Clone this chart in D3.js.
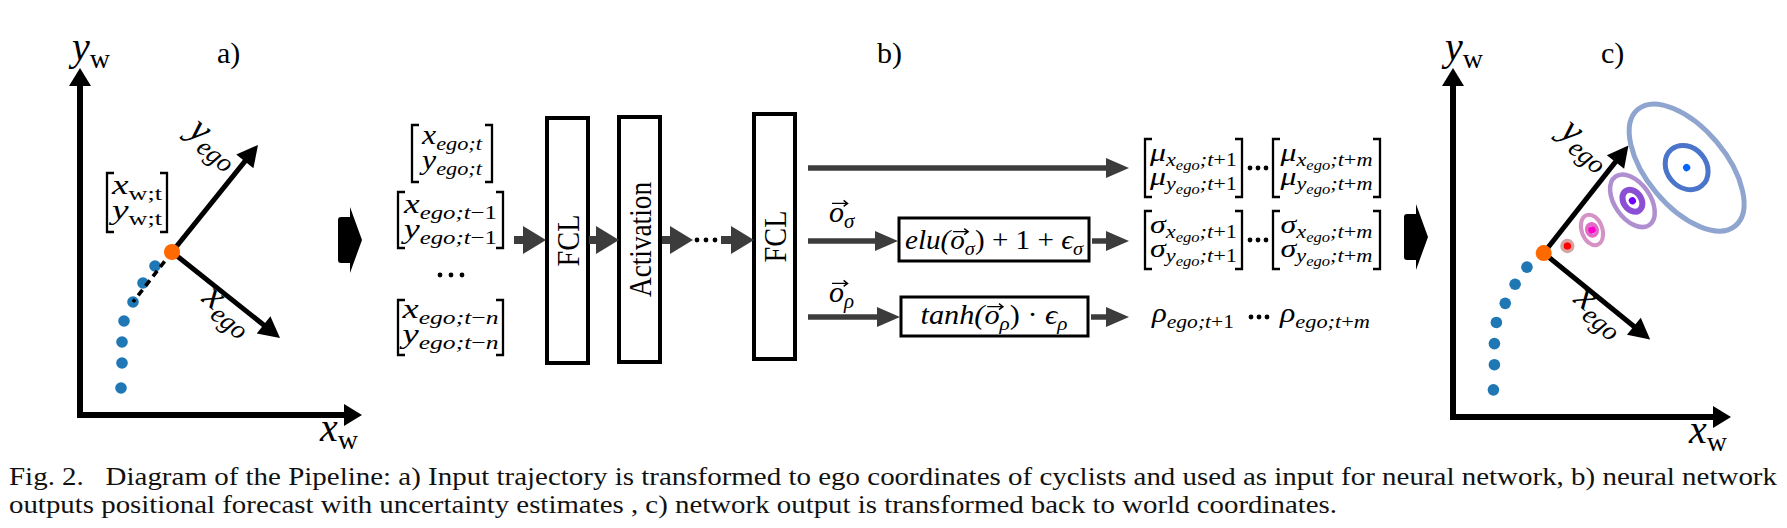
<!DOCTYPE html>
<html>
<head>
<meta charset="utf-8">
<script src="https://cdn.jsdelivr.net/npm/d3@7"></script>
<style>
  body { margin: 0; background: #fff; }
  svg { display: block; }
</style>
</head>
<body>
<svg id="fig"></svg>
<script>
// past trajectory of the cyclist, panel units (origin = axis corner, y up)
const trajX = [75, 63, 53, 44, 42, 42, 41];
const trajY = [149, 132, 113, 94, 73, 52, 27];
const egoOrigin = [92, 163];
const egoYTip = [178, 270];
const egoXTip = [200, 77];
const axisEnd = [282, 347];
const dashTo = 2; // dashed heading line runs back to this past point

// forecast (panel c): means and uncertainty ellipses
const fcX = [116, 141, 182, 237];
const fcY = [170, 186, 215, 248];
const sigOuter = [[5.5, 5.5], [10.5, 16], [18, 30], [40, 77]];
const sigInner = [[0, 0], [5, 6], [9, 12], [20, 24]];
const sigAngle = [0, -20, -35, -40];

// network blocks
const blockNames = ['FCL', 'Activation', 'FCL'];

// text
const panelLabels = ['a)', 'b)', 'c)'];
const caption = [
  'Fig. 2.   Diagram of the Pipeline: a) Input trajectory is transformed to ego coordinates of cyclists and used as input for neural network, b) neural network',
  'outputs positional forecast with uncertainty estimates , c) network output is transformed back to world coordinates.'
];

const W = 1787, H = 528;
const svg = d3.select('#fig').attr('width', W).attr('height', H).attr('viewBox', [0, 0, W, H]);

const MF = "'Liberation Serif','DejaVu Serif',serif";
const ARROW = '#3c3c3c';

// math-ish text: tokens are [text, level(0 base,1 sub,2 subsub), 'r' for roman, vec?]
function mathText(parent, x, y, toks, o) {
  const size = o.size, lv = [1, 0.7, 0.52], drop = [0, 0.2, 0.36];
  const t = parent.append('text')
    .attr('x', x).attr('y', y)
    .attr('font-family', MF)
    .attr('text-anchor', o.anchor || 'start')
    .style('white-space', 'pre');
  let cur = 0, idx = 0;
  const vecs = [];
  toks.forEach(([s, l, r, v]) => {
    const off = drop[l] * size;
    t.append('tspan')
      .attr('dy', off - cur)
      .attr('font-size', size * lv[l])
      .attr('font-style', r === 'r' ? 'normal' : 'italic')
      .text(s);
    if (v) vecs.push({ i: idx, fs: size * lv[l], by: y + off });
    cur = off; idx += s.length;
  });
  if (o.w) t.attr('textLength', o.w).attr('lengthAdjust', 'spacingAndGlyphs');
  vecs.forEach(vv => {
    const a = t.node().getStartPositionOfChar(vv.i);
    const b = t.node().getEndPositionOfChar(vv.i);
    const yy = vv.by - vv.fs * 0.62, x0 = a.x + vv.fs * 0.1, x1 = b.x + vv.fs * 0.12;
    parent.append('path')
      .attr('d', `M${x0},${yy}H${x1}M${x1 - 4},${yy - 3}L${x1},${yy}L${x1 - 4},${yy + 3}`)
      .attr('fill', 'none').attr('stroke', '#000').attr('stroke-width', 1.4);
  });
  return t;
}

function arrow(parent, x1, y1, x2, y2, o) {
  const dx = x2 - x1, dy = y2 - y1, len = Math.hypot(dx, dy);
  const ux = dx / len, uy = dy / len;
  const bx = x2 - ux * o.hl, by = y2 - uy * o.hl;
  parent.append('line')
    .attr('x1', x1).attr('y1', y1).attr('x2', bx + ux * 1).attr('y2', by + uy * 1)
    .attr('stroke', o.color).attr('stroke-width', o.w);
  parent.append('path')
    .attr('d', `M${x2},${y2}L${bx - uy * o.hw},${by + ux * o.hw}L${bx + uy * o.hw},${by - ux * o.hw}Z`)
    .attr('fill', o.color);
}

function bracket(parent, x0, x1, y0, y1) {
  const tick = 7;
  parent.append('path')
    .attr('d', `M${x0 + tick},${y0}H${x0}V${y1}H${x0 + tick}M${x1 - tick},${y0}H${x1}V${y1}H${x1 - tick}`)
    .attr('fill', 'none').attr('stroke', '#000').attr('stroke-width', 2.3);
}

function dots(parent, cx, cy, gap) {
  parent.selectAll(null).data([-1, 0, 1]).join('circle')
    .attr('cx', d => cx + d * gap).attr('cy', cy).attr('r', 2.4).attr('fill', '#000');
}

function blockArrow(parent, x, cy) {
  // rounded stub + wedge, 24px wide, 65px tall
  parent.append('path')
    .attr('d', `M${x + 3},${cy - 23}H${x + 12}V${cy - 33}L${x + 24},${cy}L${x + 12},${cy + 33}V${cy + 23}H${x + 3}Q${x},${cy + 23} ${x},${cy + 20}V${cy - 20}Q${x},${cy - 23} ${x + 3},${cy - 23}Z`)
    .attr('fill', '#000');
}

// ---------- world panels ----------
function panel(sx, sy, opts) {
  const g = svg.append('g');
  const ox = sx(0), oy = sy(0);
  // axes
  g.append('path')
    .attr('d', `M${ox},${sy(axisEnd[1]) + 17}V${oy}H${sx(axisEnd[0]) - 17}`)
    .attr('fill', 'none').attr('stroke', '#000').attr('stroke-width', 6)
    .attr('stroke-linejoin', 'miter').attr('stroke-linecap', 'square');
  arrow(g, ox, oy, ox, sy(axisEnd[1]), { hl: 18, hw: 11, w: 0, color: '#000' });
  arrow(g, ox, oy, sx(axisEnd[0]), oy, { hl: 18, hw: 11, w: 0, color: '#000' });

  // ego frame
  const ex = sx(egoOrigin[0]), ey = sy(egoOrigin[1]);
  arrow(g, ex, ey, sx(egoYTip[0]), sy(egoYTip[1]), { hl: 21, hw: 11, w: 5, color: '#000' });
  arrow(g, ex, ey, sx(egoXTip[0]), sy(egoXTip[1]), { hl: 21, hw: 11, w: 5, color: '#000' });

  // past positions
  g.selectAll('circle.past').data(trajX.map((x, i) => [x, trajY[i]])).join('circle')
    .attr('class', 'past')
    .attr('cx', d => sx(d[0])).attr('cy', d => sy(d[1])).attr('r', 5.8).attr('fill', '#1f77b4');

  if (opts.dash) {
    g.append('line')
      .attr('x1', ex).attr('y1', ey).attr('x2', sx(trajX[dashTo])).attr('y2', sy(trajY[dashTo]))
      .attr('stroke', '#000').attr('stroke-width', 3.6).attr('stroke-dasharray', '7,5');
  }

  if (opts.forecast) {
    const k = sx(1) - sx(0);
    fcX.forEach((x, i) => {
      const cx = sx(x), cy = sy(fcY[i]);
      const e = g.append('g').attr('transform', `translate(${cx},${cy}) rotate(${sigAngle[i]})`);
      const outerCol = ['#d6a3a3', '#d493c4', '#b08fd0', '#8fa5cf'][i];
      const innerCol = [null, '#e06ac6', '#8a4fd4', '#4b75ca'][i];
      const dotCol = ['#ff0000', '#ff00cc', '#7000ff', '#0066ff'][i];
      const sw = [3.5, 4, 4.5, 5][i];
      e.append('ellipse').attr('rx', sigOuter[i][0] * k).attr('ry', sigOuter[i][1] * k)
        .attr('fill', 'none').attr('stroke', outerCol).attr('stroke-width', sw);
      if (innerCol) {
        e.append('ellipse').attr('rx', sigInner[i][0] * k).attr('ry', sigInner[i][1] * k)
          .attr('fill', 'none').attr('stroke', innerCol).attr('stroke-width', i === 2 ? 6 : (i === 1 ? 4 : 5));
      }
      e.append('circle').attr('r', i === 0 ? 3.8 : 3.6).attr('fill', dotCol);
    });
  }

  // current position
  g.append('circle').attr('cx', ex).attr('cy', ey).attr('r', 8).attr('fill', '#ff6a00');

  // axis labels
  mathText(g, ox - 8, sy(axisEnd[1]) - 8, [['y', 0], ['w', 1, 'r']], { size: 40 });
  mathText(g, sx(axisEnd[0]) - 42, oy + 26, [['x', 0], ['w', 1, 'r']], { size: 40 });

  // ego labels, rotated with the ego frame
  const ang = Math.atan2(sy(egoXTip[1]) - ey, sx(egoXTip[0]) - ex) * 180 / Math.PI;
  const ly = g.append('g').attr('transform', `translate(${ex + 40},${ey - 106}) rotate(${ang})`);
  mathText(ly, 0, 6, [['y', 0], ['ego', 1]], { size: 38, anchor: 'middle' });
  const lx = g.append('g').attr('transform', `translate(${ex + 54},${ey + 61}) rotate(${ang})`);
  mathText(lx, 0, 6, [['x', 0], ['ego', 1]], { size: 38, anchor: 'middle' });

  g.append('text').attr('x', opts.labelX).attr('y', 63)
    .attr('font-family', MF).attr('font-size', 30).text(opts.label);

  if (opts.matrix) {
    bracket(g, 107, 167, 173, 232);
    mathText(g, 137, 194, [['x', 0], ['w;t', 1, 'r']], { size: 28, anchor: 'middle', w: 50 });
    mathText(g, 137, 219, [['y', 0], ['w;t', 1, 'r']], { size: 28, anchor: 'middle', w: 50 });
  }
}

const xA = d3.scaleLinear().domain([0, 282]).range([80, 362]);
const yA = d3.scaleLinear().domain([0, 347]).range([415, 68]);
const xC = d3.scaleLinear().domain([0, 282]).range([1453, 1731]);
const yC = d3.scaleLinear().domain([0, 347]).range([417, 68]);

panel(xA, yA, { dash: true, matrix: true, label: panelLabels[0], labelX: 217 });
panel(xC, yC, { forecast: true, label: panelLabels[2], labelX: 1601 });

// ---------- network (b) ----------
const net = svg.append('g');
net.append('text').attr('x', 877).attr('y', 63)
  .attr('font-family', MF).attr('font-size', 30).text(panelLabels[1]);

blockArrow(net, 338, 240);
blockArrow(net, 1404, 237);

// input history
const inRows = [
  { top: 125, bot: 182, x0: 412, x1: 492, b: 144, w: 60, tail: [['ego;t', 1]] },
  { top: 192, bot: 248, x0: 398, x1: 503, b: 213, w: 93, tail: [['ego;t', 1], ['−1', 1, 'r']] },
  { top: 300, bot: 355, x0: 398, x1: 503, b: 318, w: 96, tail: [['ego;t', 1], ['−', 1, 'r'], ['n', 1]] }
];
inRows.forEach(m => {
  bracket(net, m.x0, m.x1, m.top, m.bot);
  const cx = (m.x0 + m.x1) / 2;
  mathText(net, cx, m.b, [['x', 0]].concat(m.tail), { size: 28, anchor: 'middle', w: m.w });
  mathText(net, cx, m.b + 25, [['y', 0]].concat(m.tail), { size: 28, anchor: 'middle', w: m.w });
});
dots(net, 451, 275, 11);

// layer boxes
const boxX = [547, 619, 754], boxTop = [118, 117, 114], boxW = 41, boxH = 245;
const textLen = [52, 115, 52];
blockNames.forEach((name, i) => {
  net.append('rect').attr('x', boxX[i]).attr('y', boxTop[i]).attr('width', boxW).attr('height', boxH)
    .attr('fill', '#fff').attr('stroke', '#000').attr('stroke-width', 4);
  const cx = boxX[i] + boxW / 2, cy = boxTop[i] + boxH / 2;
  net.append('text')
    .attr('transform', `translate(${cx + 11},${cy}) rotate(-90)`)
    .attr('text-anchor', 'middle').attr('font-family', MF).attr('font-size', 32)
    .attr('textLength', textLen[i]).attr('lengthAdjust', 'spacingAndGlyphs')
    .text(name);
});

const thick = { hl: 23, hw: 14, w: 8, color: ARROW };
arrow(net, 514, 240, 546, 240, thick);
arrow(net, 589, 240, 619, 240, thick);
arrow(net, 662, 240, 693, 240, thick);
dots(net, 706, 240, 9);
arrow(net, 721, 240, 754, 240, thick);

const thin = { hl: 23, hw: 10, w: 5.5, color: ARROW };
arrow(net, 808, 168, 1129, 168, thin);
arrow(net, 808, 241, 898, 241, thin);
arrow(net, 1092, 241, 1129, 241, thin);
arrow(net, 808, 317, 900, 317, thin);
arrow(net, 1091, 317, 1129, 317, thin);

mathText(net, 829, 222, [['o', 0, 'i', true], ['σ', 1]], { size: 30 });
mathText(net, 829, 302, [['o', 0, 'i', true], ['ρ', 1]], { size: 30 });

net.append('rect').attr('x', 899).attr('y', 218).attr('width', 190).attr('height', 43)
  .attr('fill', 'none').attr('stroke', '#000').attr('stroke-width', 3);
mathText(net, 994, 249, [['elu(', 0], ['o', 0, 'i', true], ['σ', 1], [')', 0, 'r'], [' + 1 + ', 0, 'r'], ['ϵ', 0], ['σ', 1]],
  { size: 28, anchor: 'middle', w: 178 });

net.append('rect').attr('x', 901).attr('y', 297).attr('width', 187).attr('height', 39)
  .attr('fill', 'none').attr('stroke', '#000').attr('stroke-width', 3);
mathText(net, 994, 324, [['tanh(', 0], ['o', 0, 'i', true], ['ρ', 1], [')', 0, 'r'], [' · ', 0, 'r'], ['ϵ', 0], ['ρ', 1]],
  { size: 28, anchor: 'middle', w: 147 });

// outputs
const outSteps = [['+1', 1, 'r']], outStepsM = [['+', 1, 'r'], ['m', 1]];
const outMats = [
  { sym: 'μ', top: 139, bot: 197, b: 161 },
  { sym: 'σ', top: 211, bot: 269, b: 233 }
];
outMats.forEach(m => {
  [[1145, 1242, outSteps, 87], [1273, 1380, outStepsM, 92]].forEach(([x0, x1, st, w]) => {
    bracket(net, x0, x1, m.top, m.bot);
    const cx = (x0 + x1) / 2;
    mathText(net, cx, m.b, [[m.sym, 0], ['x', 1], ['ego', 2], [';t', 1]].concat(st), { size: 26, anchor: 'middle', w: w });
    mathText(net, cx, m.b + 24, [[m.sym, 0], ['y', 1], ['ego', 2], [';t', 1]].concat(st), { size: 26, anchor: 'middle', w: w });
  });
  dots(net, 1258, (m.top + m.bot) / 2, 8);
});
mathText(net, 1152, 322, [['ρ', 0], ['ego;t', 1]].concat(outSteps), { size: 28, w: 82 });
dots(net, 1259, 317, 8);
mathText(net, 1280, 322, [['ρ', 0], ['ego;t', 1]].concat(outStepsM), { size: 28, w: 90 });

// ---------- caption ----------
svg.selectAll('text.cap').data(caption).join('text')
  .attr('class', 'cap')
  .attr('x', 9).attr('y', (d, i) => 485 + i * 28)
  .attr('font-family', MF).attr('font-size', 25).attr('fill', '#111')
  .style('white-space', 'pre')
  .attr('textLength', (d, i) => i === 0 ? 1768 : 1328)
  .attr('lengthAdjust', 'spacingAndGlyphs')
  .text(d => d);
</script>
</body>
</html>
